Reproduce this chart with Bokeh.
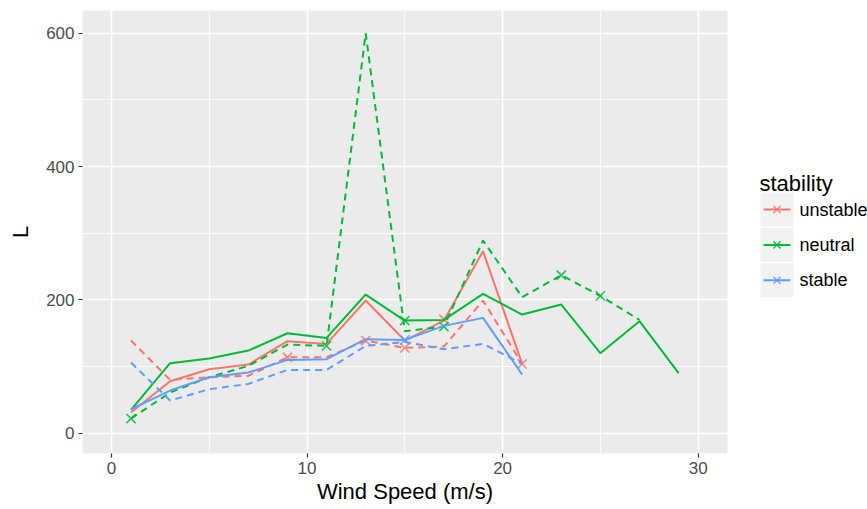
from bokeh.plotting import figure
from bokeh.models import SingleIntervalTicker, Range1d
from bokeh.layouts import row
from bokeh.core.properties import value
from bokeh.embed import file_html
from bokeh.resources import INLINE

# ---- data ----
wind = [1, 3, 5, 7, 9, 11, 13, 15, 17, 19, 21, 23, 25, 27, 29]
stabilities = ["unstable", "neutral", "stable"]
colors = ["#F8766D", "#00BA38", "#619CFF"]

unstable_solid = [31, 78, 96, 103, 138, 134, 199, 139, 169, 273, 104]
unstable_dashed = [139, 80, 84, 86, 114, 114, 139, 128, 130, 199, 104]
neutral_solid = [35, 105, 112, 124, 150, 143, 208, 169, 170, 209, 178, 193, 120, 168, 90]
neutral_dashed = [22, 61, 84, 101, 133, 131, 600, 153, 160, 289, 204, 237, 206, 170]
stable_solid = [36, 64, 84, 91, 110, 111, 141, 140, 161, 173, 88]
stable_dashed = [106, 49, 66, 74, 95, 95, 131, 137, 126, 134, 104]

unstable_pts_x = [9, 13, 15, 17, 21]
unstable_pts_y = [114, 139, 128, 171, 104]
neutral_pts_x = [1, 11, 15, 17, 23, 25]
neutral_pts_y = [22, 131, 169, 160, 237, 206]
stable_pts_x = [15]
stable_pts_y = [140]

x_ticks_interval = 10
y_ticks_interval = 200
legend_title = "stability"

solid = [unstable_solid, neutral_solid, stable_solid]
dashed = [unstable_dashed, neutral_dashed, stable_dashed]
pts = [(unstable_pts_x, unstable_pts_y), (neutral_pts_x, neutral_pts_y), (stable_pts_x, stable_pts_y)]

FONT = "Liberation Sans"

# ---------------- main panel ----------------
MAIN_W = 736
p = figure(width=MAIN_W, height=509,
           x_range=Range1d(-1.48, 31.5), y_range=Range1d(-30.4, 634),
           output_backend="svg", toolbar_location=None,
           min_border_left=82, min_border_right=9, min_border_top=10, min_border_bottom=56)

p.background_fill_color = "#EBEBEB"
p.border_fill_color = "white"
p.outline_line_color = None

p.xaxis.ticker = SingleIntervalTicker(interval=x_ticks_interval, num_minor_ticks=2)
p.yaxis.ticker = SingleIntervalTicker(interval=y_ticks_interval, num_minor_ticks=2)
p.xgrid.ticker = p.xaxis.ticker
p.ygrid.ticker = p.yaxis.ticker
for g in (p.xgrid, p.ygrid):
    g.grid_line_color = "white"
    g.grid_line_width = 1.6
    g.minor_grid_line_color = "white"
    g.minor_grid_line_width = 0.8

for ax in (p.xaxis, p.yaxis):
    ax.axis_line_color = None
    ax.minor_tick_line_color = None
    ax.major_tick_in = 0
    ax.major_tick_out = 4
    ax.major_tick_line_color = "#333333"
    ax.major_tick_line_width = 1.2
    ax.major_label_text_font = FONT
    ax.major_label_text_font_size = "17px"
    ax.major_label_text_color = "#4D4D4D"
    ax.axis_label_text_font = FONT
    ax.axis_label_text_font_size = "22px"
    ax.axis_label_text_font_style = "normal"
    ax.axis_label_text_color = "black"
    ax.major_label_standoff = 4

p.xaxis.axis_label = "Wind Speed (m/s)"
p.yaxis.axis_label = "L"
p.xaxis.axis_label_standoff = 2
p.yaxis.axis_label_standoff = 10

for name, col, ys_s, ys_d, (px, py) in zip(stabilities, colors, solid, dashed, pts):
    p.line(x=wind[:len(ys_s)], y=ys_s, line_color=col, line_width=2)
    p.line(x=wind[:len(ys_d)], y=ys_d, line_color=col, line_width=2, line_dash="7 5")
    p.scatter(x=px, y=py, marker="x", size=13, line_color=col, line_width=1.6, line_alpha=0.85)

# ---------------- legend panel (page-pixel coordinates) ----------------
# the row aligns this panel's frame with the main frame (page y 10..453)
LW = 867 - MAIN_W
leg = figure(width=LW, height=509, x_range=Range1d(MAIN_W, 867), y_range=Range1d(453, 10),
             output_backend="svg", toolbar_location=None, title=None,
             x_axis_location=None, y_axis_location=None,
             min_border_left=0, min_border_right=0, min_border_top=10, min_border_bottom=56)
leg.grid.visible = False
leg.outline_line_color = None
leg.background_fill_color = "white"
leg.border_fill_color = "white"

first_center, pitch = 209.0, 35.4
centers = [first_center + i * pitch for i in range(len(stabilities))]
key_x = 776.5
leg.rect(x=key_x, y=centers, width=33, height=34, fill_color="#F2F2F2", line_color=None)
leg.segment(x0=key_x - 13.5, y0=centers, x1=key_x + 13.5, y1=centers, line_color=colors, line_width=2)
leg.scatter(x=key_x, y=centers, marker="x", size=10, line_color=colors, line_width=1.5, line_alpha=0.85)
leg.text(x=799, y=centers, text=stabilities, text_baseline="middle", text_align="left",
         text_font=value(FONT), text_font_size="18px", text_color="black")
leg.text(x=759, y=[183], text=[legend_title], text_baseline="alphabetic", text_align="left",
         text_font=value(FONT), text_font_size="22px", text_color="black")

layout = row(p, leg, spacing=0)
open("out.html", "w").write(file_html(layout, INLINE))
